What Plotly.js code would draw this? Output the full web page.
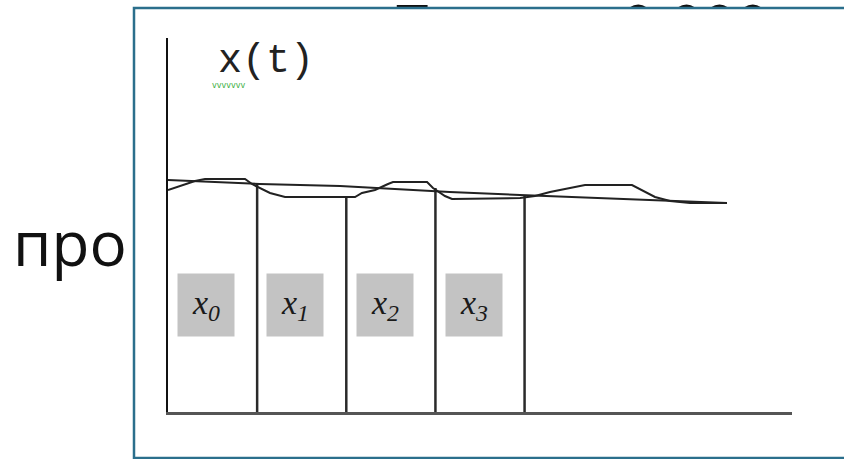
<!DOCTYPE html>
<html>
<head>
<meta charset="utf-8">
<script src="https://cdn.plot.ly/plotly-3.0.1.min.js"></script>
<style>html,body{margin:0;padding:0;background:#fff;}#chart{width:844px;height:459px;}</style>
</head>
<body>
<div id="chart"></div>
<script>
// Continuous signal x(t)
const signalT = [0, 0.135, 0.303, 0.415, 0.864, 0.942, 1.055, 1.144, 1.313, 2.098, 2.176, 2.322, 2.468, 2.524, 2.906, 2.973, 3.107, 3.186, 3.949, 4.117, 4.285, 4.454, 4.678, 5.205, 5.351, 5.463, 5.632, 5.856, 6.271];
const signalX = [2.22, 2.26, 2.31, 2.33, 2.33, 2.28, 2.23, 2.19, 2.15, 2.15, 2.19, 2.22, 2.28, 2.30, 2.30, 2.24, 2.16, 2.13, 2.14, 2.16, 2.20, 2.23, 2.27, 2.27, 2.20, 2.15, 2.11, 2.09, 2.09];
// Smoothed trend line
const trendT = [0, 1.03, 1.93, 3.16, 3.95, 6.27];
const trendX = [2.32, 2.28, 2.26, 2.20, 2.17, 2.09];
// Sampling instants and sample heights
const sampleT = [1, 2, 3, 4];
const sampleX = [2.29, 2.15, 2.24, 2.17];
// Interval labels
const intervalStart = [0, 1, 2, 3];
const intervalSub = ['0', '1', '2', '3'];
// Texts
const axisYLabel = 'x(t)';
const axisXLabel = 't';
const sideText = 'про';
const topTextA = 'Т =';
const topTextB = '0,000';

// build sample stems from arrays
const stemX = [], stemY = [];
sampleT.forEach((t, i) => { stemX.push(t, t, null); stemY.push(0, sampleX[i], null); });

const traces = [
  {x: stemX, y: stemY, mode: 'lines', line: {color: '#2a2a2a', width: 2.5}, hoverinfo: 'skip'},
  {x: trendT, y: trendX, mode: 'lines', line: {color: '#222', width: 2}, hoverinfo: 'skip'},
  {x: signalT, y: signalX, mode: 'lines', line: {color: '#222', width: 2}, hoverinfo: 'skip'},
  {x: [2.56, 5.09], y: [3.80, 3.80], xaxis: 'x2', yaxis: 'y2', mode: 'text', text: [topTextA, topTextB],
   textposition: 'middle right', cliponaxis: false,
   textfont: {family: 'Open Sans', size: 58, color: '#111'}, hoverinfo: 'skip'}
];

const W = 624, H = 412;
const px2paperX = p => (p - 168) / W;
const px2paperY = p => (412 - p) / H;

const annotations = intervalStart.map((s, i) => ({
  x: s + 0.43, y: 1.07, xref: 'x', yref: 'y', showarrow: false,
  text: '<i>x</i><sub><i>' + intervalSub[i] + '</i></sub>',
  font: {family: 'Liberation Serif', size: 34, color: '#1a1a1a'},
  bgcolor: '#c3c3c3', width: 56, height: 62, borderpad: 0, align: 'center', valign: 'middle'
}));
annotations.push(
  {x: 1.10, y: 3.50, xref: 'x', yref: 'y', showarrow: false, text: axisYLabel,
   font: {family: 'Liberation Mono', size: 40, color: '#222'}},
  {x: 0.68, y: 3.26, xref: 'x', yref: 'y', showarrow: false, text: 'vvvvvvv',
   font: {family: 'DejaVu Sans', size: 8, color: '#3cb043'}},
  {x: 7.37, y: -0.19, xref: 'x', yref: 'y', showarrow: false, text: axisXLabel,
   font: {family: 'Liberation Mono', size: 40, color: '#222'}},
  {x: 7.41, y: -0.40, xref: 'x', yref: 'y', showarrow: false, text: 'vvvvvv',
   font: {family: 'DejaVu Sans', size: 8, color: '#3cb043'}},
  {x: px2paperX(11), y: px2paperY(242), xref: 'paper', yref: 'paper', xanchor: 'left', yanchor: 'middle',
   showarrow: false, text: sideText, font: {family: 'Open Sans', size: 62, color: '#111'}}
);

const layout = {
  width: 844, height: 459,
  margin: {l: 168, r: 52, t: 0, b: 47, pad: 0},
  paper_bgcolor: '#fff', plot_bgcolor: 'rgba(0,0,0,0)',
  showlegend: false,
  xaxis: {range: [0, 7], showgrid: false, zeroline: false, showticklabels: false, ticks: '',
          showline: true, linecolor: '#555', linewidth: 3, fixedrange: true, anchor: 'y'},
  yaxis: {range: [0, 3.74], domain: [0, 374 / 412], showgrid: false, zeroline: false, showticklabels: false, ticks: '',
          showline: true, linecolor: '#111', linewidth: 2, fixedrange: true, anchor: 'x'},
  xaxis2: {range: [0, 7], domain: [0, 1], visible: false, anchor: 'y2', fixedrange: true},
  yaxis2: {range: [0, 4.12], domain: [0, 1], visible: false, anchor: 'x2', fixedrange: true},
  annotations: annotations,
  shapes: [
    {type: 'rect', xref: 'paper', yref: 'paper', layer: 'above',
     x0: px2paperX(380), x1: px2paperX(850), y0: px2paperY(80), y1: px2paperY(9),
     fillcolor: '#fff', line: {width: 0}},
    {type: 'rect', xref: 'paper', yref: 'paper', layer: 'above',
     x0: px2paperX(134), x1: px2paperX(860), y0: px2paperY(458), y1: px2paperY(8),
     fillcolor: 'rgba(0,0,0,0)', line: {color: '#2b6f8c', width: 2.5}}
  ]
};

Plotly.newPlot('chart', traces, layout, {displayModeBar: false, staticPlot: true});
</script>
</body>
</html>
